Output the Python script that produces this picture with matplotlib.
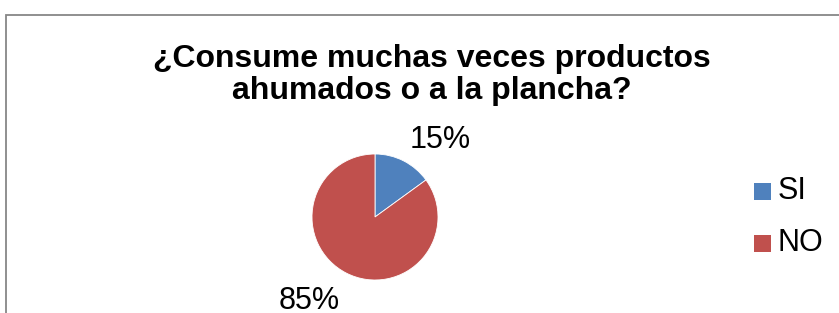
import matplotlib
matplotlib.use("Agg")
import matplotlib.pyplot as plt
from matplotlib.patches import Rectangle
import numpy as np

categories = ["SI", "NO"]
values = [15, 85]
colors = ["#4F81BD", "#C0504D"]
title = "¿Consume muchas veces productos\nahumados o a la plancha?"

W, H = 839, 313
plt.rcParams['font.family'] = ['Liberation Sans', 'DejaVu Sans']
fig = plt.figure(figsize=(W / 100, H / 100), dpi=100)

# chart border (cropped at right and bottom)
fig.patches.append(Rectangle((5.5 / W, -0.1), 1.2, (H - 14.5) / H + 0.1,
                             transform=fig.transFigure, fill=False,
                             edgecolor="#878787", linewidth=1.3))

fig.text(432 / W, 1 - 75 / H, title, ha="center", va="center",
         fontsize=23, fontweight="bold", linespacing=1.12)

cx, cy, r = 375, 217, 63
ax = fig.add_axes([(cx - r) / W, (H - cy - r) / H, 2 * r / W, 2 * r / H])
wedges, texts = ax.pie(values, colors=colors, startangle=90, counterclock=False,
                       labels=[f"{v}%" for v in values], labeldistance=1.3,
                       textprops=dict(fontsize=22),
                       wedgeprops=dict(linewidth=0.6, edgecolor="white"))
ax.set_xlim(-1, 1)
ax.set_ylim(-1, 1)
ax.set_aspect("equal")
for t in texts:
    t.set_clip_on(False)
    t.set_ha("center")
    t.set_va("center")
label_pos = [(1.04, 1.23), (-1.05, -1.34)]
for t, p in zip(texts, label_pos):
    t.set_position(p)

# legend
for i, (c, col) in enumerate(zip(categories, colors)):
    y = 191 + i * 52
    fig.patches.append(Rectangle((754 / W, 1 - (y + 8.5) / H), 17 / W, 17 / H,
                                 transform=fig.transFigure, facecolor=col,
                                 edgecolor="none"))
    fig.text(778 / W, 1 - y / H, c, ha="left", va="center", fontsize=22)

fig.savefig("out.png", dpi=100)
